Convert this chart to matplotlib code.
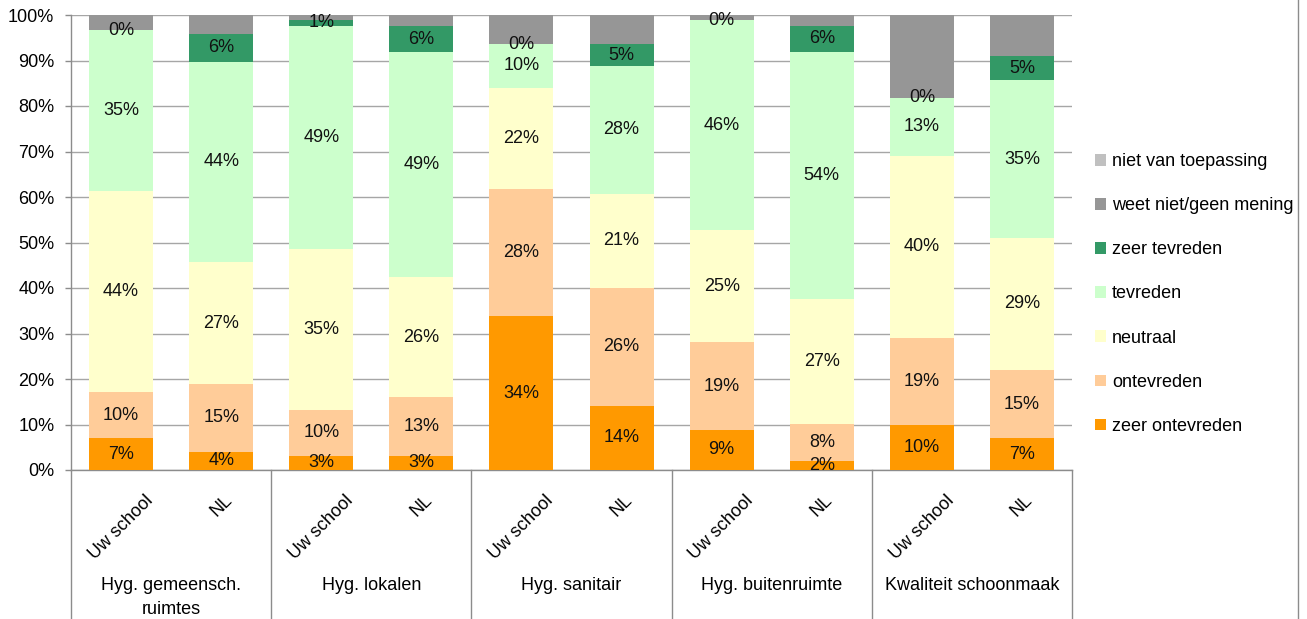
import matplotlib
matplotlib.use("Agg")
import matplotlib.pyplot as plt
from matplotlib.patches import Patch
import numpy as np

plt.rcParams['font.family'] = ['Liberation Sans', 'DejaVu Sans']

bar_labels = ["Uw school", "NL"] * 5
groups = ["Hyg. gemeensch.\nruimtes", "Hyg. lokalen", "Hyg. sanitair",
          "Hyg. buitenruimte", "Kwaliteit schoonmaak"]

zeer_ontevreden = [7.0, 4.0, 3.1, 3.1, 33.8, 14.1, 8.8, 2.0, 9.9, 7.0]
ontevreden      = [10.1, 14.9, 10.1, 12.9, 28.0, 25.9, 19.3, 8.1, 19.2, 15.0]
neutraal        = [44.2, 26.8, 35.4, 26.4, 22.2, 20.7, 24.6, 27.4, 40.0, 29.0]
tevreden        = [35.4, 44.0, 49.0, 49.4, 9.6, 28.1, 46.2, 54.4, 12.7, 34.7]
zeer_tevreden   = [0.0, 6.1, 1.3, 5.7, 0.0, 4.8, 0.0, 5.7, 0.0, 5.3]
weet_niet       = [3.3, 4.2, 1.1, 2.4, 6.4, 6.4, 1.1, 2.4, 18.2, 9.0]
niet_van_toep   = [0.0] * 10

series = [
    ("zeer ontevreden", zeer_ontevreden, "#FF9900", True),
    ("ontevreden", ontevreden, "#FFCC99", True),
    ("neutraal", neutraal, "#FFFFCC", True),
    ("tevreden", tevreden, "#CCFFCC", True),
    ("zeer tevreden", zeer_tevreden, "#339966", True),
    ("weet niet/geen mening", weet_niet, "#969696", False),
    ("niet van toepassing", niet_van_toep, "#C0C0C0", False),
]

FS = 13
W, H = 1307, 619
fig = plt.figure(figsize=(W / 100, H / 100), dpi=100)
ax = fig.add_axes([71 / W, 1 - 470 / H, (1072 - 71) / W, (470 - 15) / H])

x = np.arange(len(bar_labels))
bottom = np.zeros(len(x))
handles = []
for name, vals, col, show in series:
    vals = np.array(vals)
    cont = ax.bar(x, vals, width=0.64, bottom=bottom, color=col, zorder=3, linewidth=0)
    if show:
        ax.bar_label(cont, labels=[f"{round(v)}%" for v in vals], label_type='center',
                     fontsize=FS, color='#111111', zorder=5)
    bottom = bottom + vals
    handles.append(Patch(facecolor=col, edgecolor='none', label=name))

ax.set_xlim(-0.5, len(x) - 0.5)
ax.set_ylim(0, 100)
ax.set_yticks(np.arange(0, 101, 10))
ax.set_yticklabels([f"{v}%" for v in range(0, 101, 10)], fontsize=FS)
ax.yaxis.grid(True, color='#A6A6A6', linewidth=1.0, zorder=0)
ax.tick_params(axis='y', direction='out', length=4, width=1, color='#8C8C8C', pad=8)
ax.tick_params(axis='x', length=0, labelbottom=False)
for s in ['top', 'right']:
    ax.spines[s].set_visible(False)
for s in ['left', 'bottom']:
    ax.spines[s].set_color('#8C8C8C')
    ax.spines[s].set_linewidth(1.0)

trans = ax.get_xaxis_transform()
for xi, lab in zip(x, bar_labels):
    ax.text(xi, -0.048, lab, transform=trans, rotation=45, ha='center', va='top',
            fontsize=FS, clip_on=False)
for gi, g in enumerate(groups):
    ax.text(2 * gi + 0.5, -0.235, g, transform=trans, ha='center', va='top',
            fontsize=FS, linespacing=1.55, multialignment='center', clip_on=False)
for b in np.arange(-0.5, len(x), 2):
    ax.plot([b, b], [0, -0.34], transform=trans, color='#8C8C8C', linewidth=1.0,
            clip_on=False, zorder=4)

fig.lines.append(plt.Line2D([1297.5 / W, 1297.5 / W], [0, 1], transform=fig.transFigure,
                            color='#8C8C8C', linewidth=1.0))

fig.legend(handles=handles[::-1], loc='center left', bbox_to_anchor=(1095 / W, 1 - 294 / H),
           frameon=False, fontsize=FS, handlelength=0.6, handleheight=0.6,
           handletextpad=0.35, labelspacing=1.5, borderaxespad=0, borderpad=0)

fig.savefig("out.png", dpi=100)
